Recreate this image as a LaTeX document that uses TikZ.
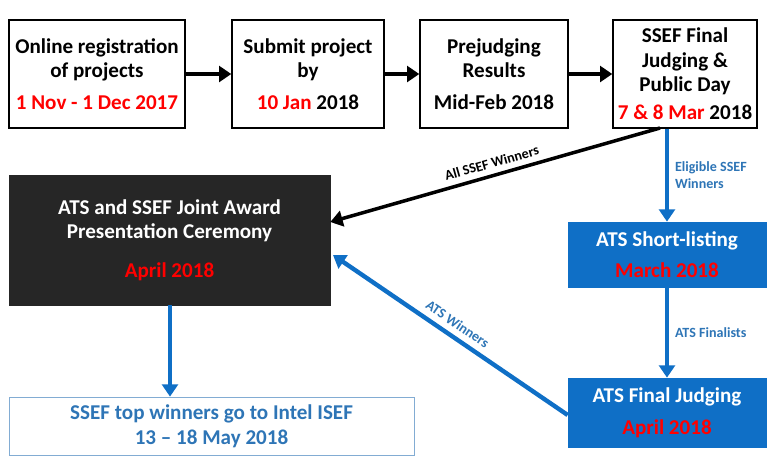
\documentclass[tikz,border=0pt]{standalone}
\usepackage{fontspec}
\setmainfont{Carlito}
\usetikzlibrary{positioning, arrows.meta}
\definecolor{darkbox}{HTML}{262626}
\definecolor{atsblue}{HTML}{0F6FC6}
\definecolor{txtblue}{HTML}{2E75B6}
\tikzset{
  stepbox/.style={draw=black, thick, align=center, font=\bfseries\large, inner sep=0pt},
  atsbox/.style={draw=atsblue, fill=atsblue, text=white, align=center, font=\bfseries\large, minimum width=3.96cm, inner sep=0pt},
  blk/.style={-{Triangle[length=7pt,width=9pt]}, line width=2.5pt, black},
  blu/.style={-{Triangle[length=7pt,width=9pt]}, line width=2.5pt, atsblue},
  lab/.style={font=\bfseries\footnotesize}
}
\begin{document}
\begin{tikzpicture}[x=0.02cm, y=-0.02cm]
\useasboundingbox (0,0) rectangle (779,468);
%top row
\node[stepbox, minimum width=3.52cm, minimum height=2.16cm] (reg) at (97,74) {Online registration\\of projects\\[4pt]\textcolor{red}{1 Nov - 1 Dec 2017}};
\node[stepbox, minimum width=3.04cm, minimum height=2.16cm] (sub) at (308,74) {Submit project\\by\\[4pt]\textcolor{red}{10 Jan} 2018};
\node[stepbox, minimum width=2.96cm, minimum height=2.16cm] (pre) at (494,74) {Prejudging\\Results\\[4pt]Mid-Feb 2018};
\node[stepbox, minimum width=2.88cm, minimum height=2.16cm] (fin) at (685,74) {SSEF Final\\Judging \&\\Public Day\\[2pt]\textcolor{red}{7 \& 8 Mar} 2018};
\draw[blk] (reg) -- (sub);
\draw[blk] (sub) -- (pre);
\draw[blk] (pre) -- (fin);
%award
\node[draw=darkbox, fill=darkbox, text=white, align=center, font=\bfseries\large, minimum width=6.42cm, minimum height=2.6cm, inner sep=0pt] (award) at (169.5,240) {ATS and SSEF Joint Award\\Presentation Ceremony\\[8pt]\textcolor{red}{April 2018}};
\node[draw=txtblue!60, text=txtblue, align=center, font=\bfseries\large, minimum width=8.1cm, minimum height=1.16cm, inner sep=0pt] (isef) at (211.5,426) {SSEF top winners go to Intel ISEF\\13 -- 18 May 2018};
%ATS
\node[atsbox, minimum height=1.3cm] (short) at (667,254.5) {ATS Short-listing\\[4pt]\textcolor{red}{March 2018}};
\node[atsbox, minimum height=1.38cm] (final) at (667,412.5) {ATS Final Judging\\[4pt]\textcolor{red}{April 2018}};
%connectors
\coordinate (fb) at (660,128);
\draw[blk, line width=2pt] (fb) -- (award.east |- 0,222) node[lab, midway, above, sloped] {All SSEF Winners};
\draw[blu] (fin.south -| short.north) -- (short.north) node[lab, midway, right, text=txtblue, align=left] {Eligible SSEF\\Winners};
\draw[blu] (short) -- (final) node[lab, midway, right, text=txtblue] {ATS Finalists};
\draw[blu] (final.west |- 0,415) -- (333,255) node[lab, midway, above, sloped, text=txtblue] {ATS Winners};
\draw[blu] (award.south -| 170,0) -- (isef.north -| 170,0);
\end{tikzpicture}
\end{document}
